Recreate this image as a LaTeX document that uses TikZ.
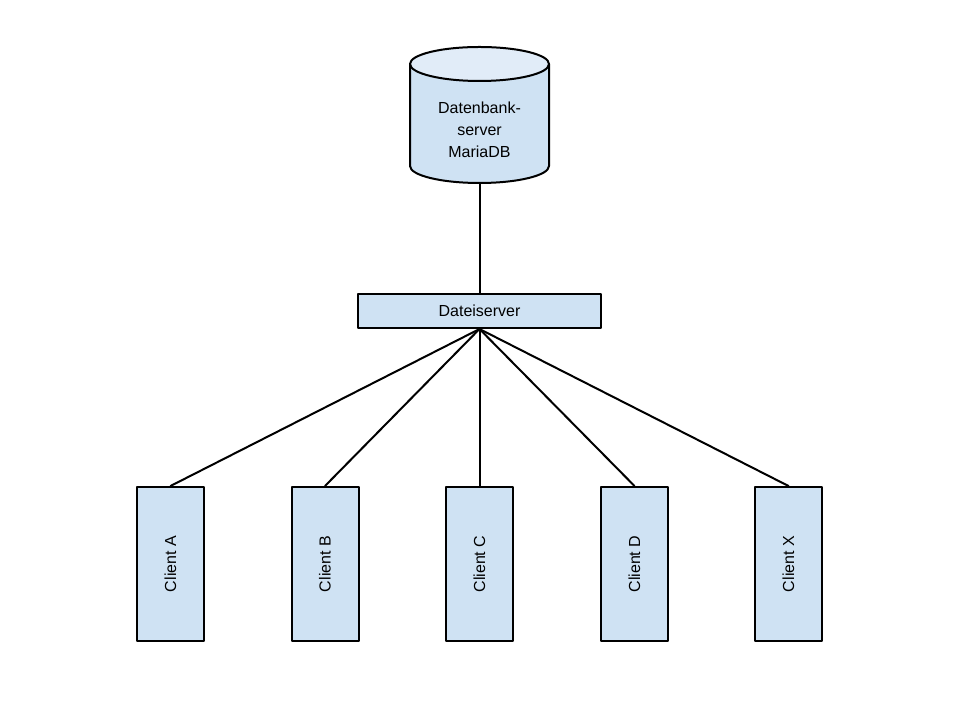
\documentclass[tikz,border=0pt]{standalone}
\usepackage{fontspec}
\setmainfont{Liberation Sans}
\usetikzlibrary{positioning}
\definecolor{boxblue}{HTML}{CFE2F3}
\definecolor{topblue}{HTML}{E1ECF8}
\begin{document}
\begin{tikzpicture}[x=1pt,y=1pt,line cap=round,line join=round,line width=2pt,
	box/.style={draw=black,fill=boxblue,inner sep=0pt,font=\fontsize{16}{22}\selectfont},
	client/.style={box,minimum width=67pt,minimum height=154pt}]
	\useasboundingbox (0,0) rectangle (960,720);
	% database cylinder
	\draw[fill=boxblue] (410,656) -- (410,554) arc[start angle=180,end angle=360,x radius=69.5,y radius=17] -- (549,656);
	\draw[fill=topblue] (479.5,656) ellipse[x radius=69.5,y radius=17];
	\node[align=center,font=\fontsize{16}{22}\selectfont,minimum width=139pt,minimum height=110pt,inner sep=0pt] (db) at (479.5,590) {Datenbank-\\server\\MariaDB};
	\node[box,minimum width=243pt,minimum height=34pt] (fs) at (479.5,409) {Dateiserver};
	\node[client] (ca) at (170.5,156) {\rotatebox{90}{Client A}};
	\node[client] (cb) at (325,156) {\rotatebox{90}{Client B}};
	\node[client] (cc) at (479.5,156) {\rotatebox{90}{Client C}};
	\node[client] (cd) at (634.5,156) {\rotatebox{90}{Client D}};
	\node[client] (cx) at (788.5,156) {\rotatebox{90}{Client X}};
	\draw (db.south) ++(0,2) -- (fs.north);
	\foreach \c in {ca,cb,cc,cd,cx}
		\draw (fs.south) -- (\c.north);
\end{tikzpicture}
\end{document}
